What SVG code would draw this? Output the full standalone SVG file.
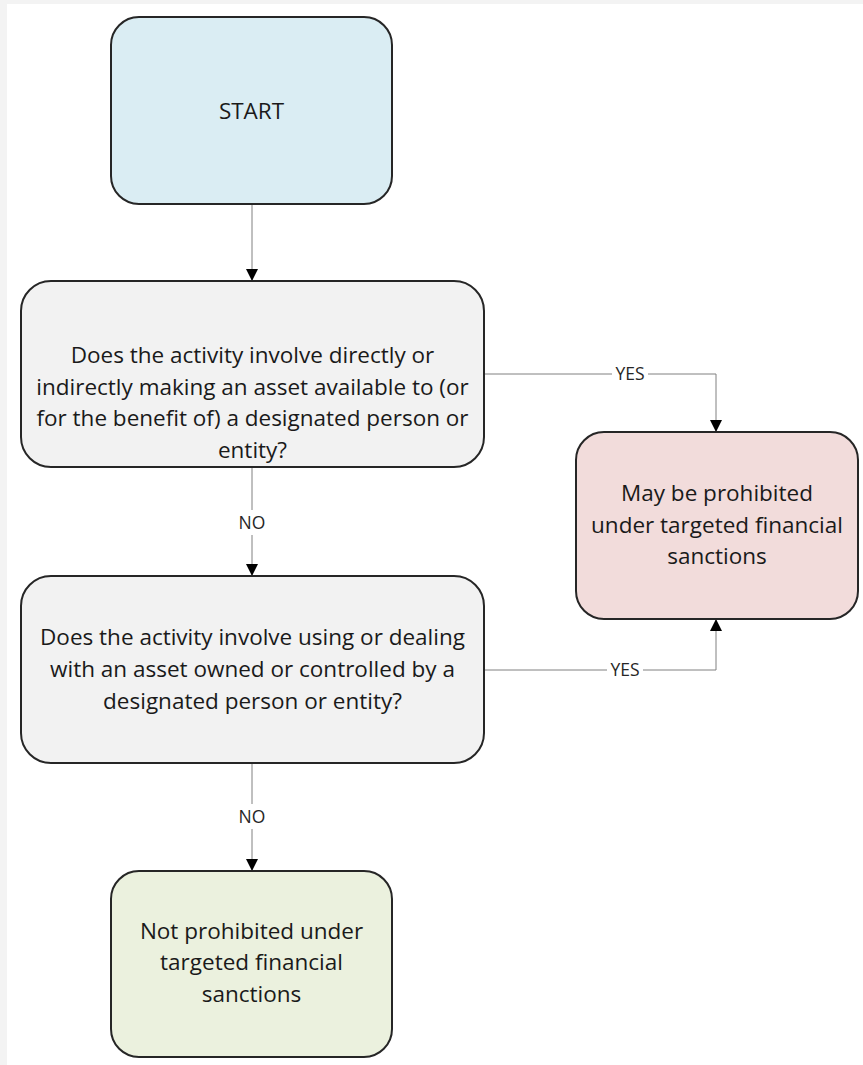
<svg xmlns="http://www.w3.org/2000/svg" width="863" height="1065" viewBox="0 0 863 1065">
  <style>
    .box { stroke: #262626; stroke-width: 2; }
    .start { fill: #daedf3; }
    .question { fill: #f2f2f2; }
    .yes-out { fill: #f2dcdb; }
    .no-out { fill: #ebf1de; }
    .label { font-family: "Open Sans", "Liberation Sans", sans-serif; font-size: 22.5px; fill: #1a1a1a; text-anchor: middle; }
    .edge { fill: none; stroke: #808080; stroke-width: 1; }
    .edge-label { font-family: "Open Sans", "Liberation Sans", sans-serif; font-size: 17.5px; fill: #262626; text-anchor: middle; }
  </style>
  <defs>
    <marker id="arrow" viewBox="0 0 12 12" refX="12" refY="6" markerWidth="12" markerHeight="12" markerUnits="userSpaceOnUse" orient="auto">
      <path d="M0,0 L12,6 L0,12 Z" fill="#000"/>
    </marker>
  </defs>

  <!-- page -->
  <rect x="0" y="0" width="863" height="1065" fill="#f3f3f3"/>
  <rect x="7" y="4" width="856" height="1061" fill="#ffffff"/>

  <g id="connectors">
    <line class="edge" x1="252" y1="205" x2="252" y2="281" marker-end="url(#arrow)"/>
    <line class="edge" x1="252" y1="468" x2="252" y2="510"/>
    <line class="edge" x1="252" y1="535" x2="252" y2="576" marker-end="url(#arrow)"/>
    <line class="edge" x1="252" y1="764" x2="252" y2="804"/>
    <line class="edge" x1="252" y1="829" x2="252" y2="871" marker-end="url(#arrow)"/>
    <polyline class="edge" points="485,374 612,374"/>
    <polyline class="edge" points="648,374 716,374 716,432" marker-end="url(#arrow)"/>
    <polyline class="edge" points="485,670 607,670"/>
    <polyline class="edge" points="643,670 716,670 716,619" marker-end="url(#arrow)"/>
    <text class="edge-label" x="252" y="529">NO</text>
    <text class="edge-label" x="252" y="823">NO</text>
    <text class="edge-label" x="630" y="380">YES</text>
    <text class="edge-label" x="625" y="676">YES</text>
  </g>

  <g id="start">
    <rect class="box start" x="111" y="17" width="281" height="187" rx="28"/>
    <text class="label" x="251.5" y="119">START</text>
  </g>

  <g id="q-make-available">
    <rect class="box question" x="21" y="281" width="463" height="186" rx="30"/>
    <text class="label" x="252.5" y="363">Does the activity involve directly or</text>
    <text class="label" x="252.5" y="395">indirectly making an asset available to (or</text>
    <text class="label" x="252.5" y="426">for the benefit of) a designated person or</text>
    <text class="label" x="252.5" y="458">entity?</text>
  </g>

  <g id="q-use-deal">
    <rect class="box question" x="21" y="576" width="463" height="187" rx="30"/>
    <text class="label" x="252.5" y="645">Does the activity involve using or dealing</text>
    <text class="label" x="252.5" y="677">with an asset owned or controlled by a</text>
    <text class="label" x="252.5" y="709">designated person or entity?</text>
  </g>

  <g id="may-be-prohibited">
    <rect class="box yes-out" x="576" y="432" width="282" height="187" rx="28"/>
    <text class="label" x="717" y="501">May be prohibited</text>
    <text class="label" x="717" y="533">under targeted financial</text>
    <text class="label" x="717" y="564">sanctions</text>
  </g>

  <g id="not-prohibited">
    <rect class="box no-out" x="111" y="871" width="281" height="186" rx="28"/>
    <text class="label" x="251.5" y="939">Not prohibited under</text>
    <text class="label" x="251.5" y="970">targeted financial</text>
    <text class="label" x="251.5" y="1002">sanctions</text>
  </g>
</svg>
